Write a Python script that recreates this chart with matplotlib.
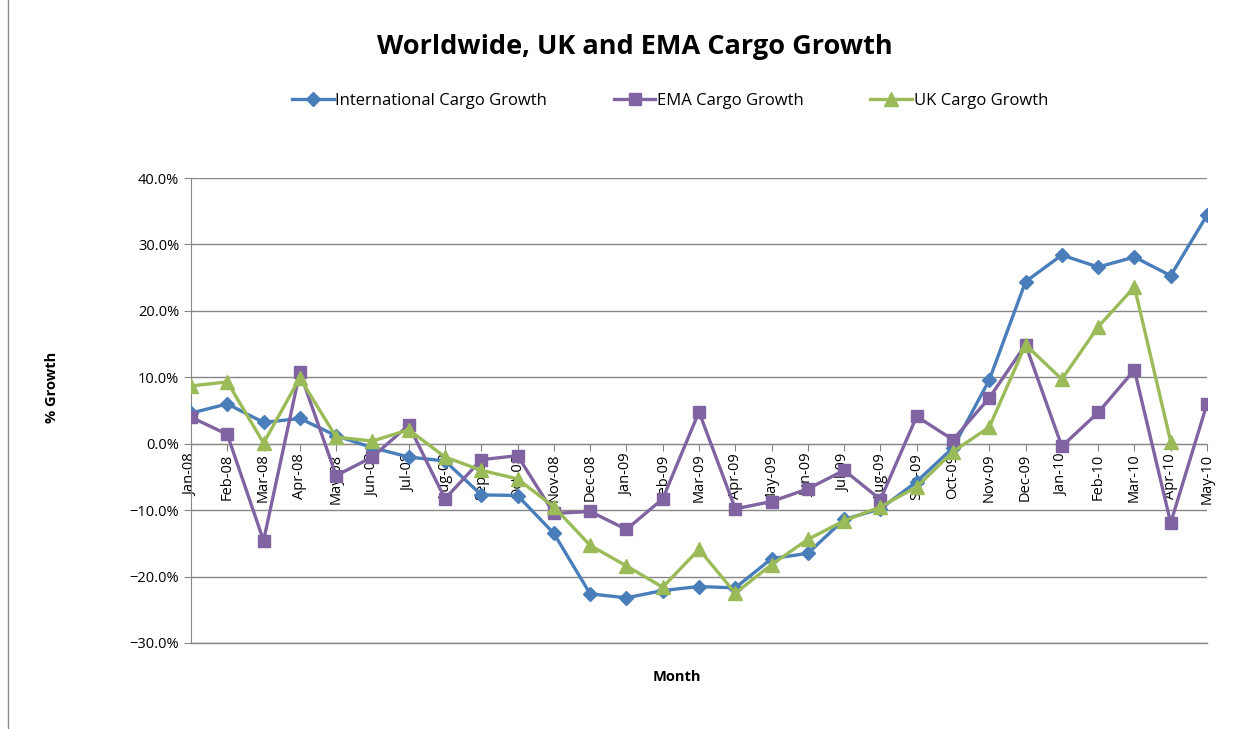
import matplotlib.pyplot as plt
from matplotlib.ticker import PercentFormatter
from matplotlib.patches import Rectangle

# months Jan-08 .. May-10
months = ['Jan-08', 'Feb-08', 'Mar-08', 'Apr-08', 'May-08', 'Jun-08', 'Jul-08', 'Aug-08',
          'Sep-08', 'Oct-08', 'Nov-08', 'Dec-08', 'Jan-09', 'Feb-09', 'Mar-09', 'Apr-09',
          'May-09', 'Jun-09', 'Jul-09', 'Aug-09', 'Sep-09', 'Oct-09', 'Nov-09', 'Dec-09',
          'Jan-10', 'Feb-10', 'Mar-10', 'Apr-10', 'May-10']

intl_growth = [4.6, 6.0, 3.2, 3.8, 1.2, -0.6, -2.0, -2.6, -7.7, -7.8, -13.5, -22.6,
               -23.2, -22.1, -21.5, -21.7, -17.3, -16.5, -11.4, -9.8, -5.7, -0.6,
               9.6, 24.4, 28.4, 26.6, 28.1, 25.3, 34.4]
ema_growth = [4.0, 1.4, -14.6, 10.8, -4.8, -2.0, 2.8, -8.3, -2.4, -1.8, -10.5, -10.2,
              -12.9, -8.3, 4.8, -9.8, -8.7, -6.8, -4.0, -8.4, 4.1, 0.6,
              6.9, 14.9, -0.4, 4.7, 11.1, -11.9, 6.0]
uk_growth = [8.7, 9.3, 0.1, 9.9, 1.0, 0.4, 2.1, -2.0, -4.0, -5.3, -9.5, -15.3,
             -18.4, -21.6, -15.9, -22.5, -18.2, -14.4, -11.6, -9.5, -6.5, -1.2,
             2.5, 14.9, 9.7, 17.6, 23.6, 0.3]

plt.rcParams['font.family'] = ['Open Sans', 'DejaVu Sans']

fig = plt.figure(figsize=(12.41, 7.29), dpi=100)
ax = fig.add_axes([191 / 1241, 1 - 643 / 729, (1207 - 191) / 1241, (643 - 178) / 729])

# outer chart border
fig.patches.append(Rectangle((8 / 1241, -0.01), 1.2, 1.2, transform=fig.transFigure,
                             fill=False, edgecolor='#8c8c8c', linewidth=1))

x = list(range(len(months)))
ax.plot(x, intl_growth, color='#4a7ebb', lw=2.4, marker='D', ms=7,
        label='International Cargo Growth', zorder=3)
ax.plot(x, ema_growth, color='#8064a2', lw=2.4, marker='s', ms=9,
        label='EMA Cargo Growth', zorder=4)
ax.plot(x[:len(uk_growth)], uk_growth, color='#9bbb59', lw=2.4, marker='^', ms=10,
        label='UK Cargo Growth', zorder=5)

# x axis crosses at zero (set before tick styling, it resets ticks)
ax.spines['bottom'].set_position(('data', 0))
for s in ['top', 'right']:
    ax.spines[s].set_visible(False)
ax.spines['bottom'].set_color('#868686')
ax.spines['left'].set_color('#868686')

ax.set_xlim(0, len(months) - 1)
ax.set_ylim(-30, 40)
ax.set_yticks(range(-30, 41, 10))
ax.yaxis.set_major_formatter(PercentFormatter(decimals=1))
ax.grid(axis='y', color='#868686', lw=1)
ax.axhline(-30, color='#868686', lw=1, clip_on=False, zorder=0.5)
ax.set_axisbelow(True)

ax.set_xticks(x)
ax.set_xticklabels(months)
ax.tick_params(axis='x', length=5, color='#868686', pad=2, labelrotation=90,
               labelsize=10.5)
ax.tick_params(axis='y', length=5, color='#868686', labelsize=10.5)

ax.set_ylabel('% Growth', fontsize=10.5, fontweight='bold')
ax.yaxis.set_label_coords(-0.13, 0.55)
fig.text(677 / 1241, 1 - 677 / 729, 'Month', ha='center', va='center',
         fontsize=10.5, fontweight='bold')

fig.text(635 / 1241, 1 - 47 / 729, 'Worldwide, UK and EMA Cargo Growth',
         ha='center', va='center', fontsize=19.5, fontweight='bold')

fig.legend(loc='center', bbox_to_anchor=(670 / 1241, 1 - 101 / 729), ncol=3,
           frameon=False, fontsize=12, columnspacing=4, handlelength=2.5,
           handletextpad=0.1)

fig.savefig('out.png', dpi=100)
